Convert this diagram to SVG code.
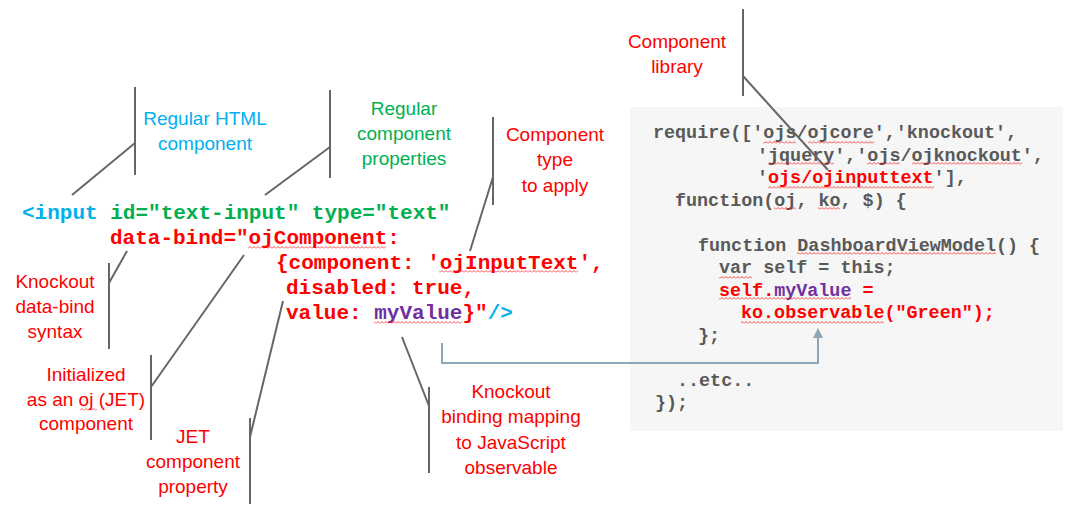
<svg xmlns="http://www.w3.org/2000/svg" width="1083" height="515" viewBox="0 0 1083 515">
<defs>
<style>
.lbl{font-family:"Liberation Sans",Arial,sans-serif;font-size:19px;text-anchor:middle}
.red{fill:#FF0000}.blue{fill:#00B0F0}.green{fill:#00B050}.purple{fill:#7030A0}.gray{fill:#595959}
.code{font-family:"Liberation Mono","Courier New",monospace;font-weight:bold;white-space:pre}
.lc{font-size:21px}.rc{font-size:18.4px}
.co{stroke:#666666;stroke-width:2;fill:none}
.sq{fill:url(#wave)}
</style>
<pattern id="wave" width="4" height="3" patternUnits="userSpaceOnUse">
<path d="M0 2.5 L2 0.5 L4 2.5" fill="none" stroke="#FF0000" stroke-width="0.7"/>
</pattern>
<marker id="ah" viewBox="0 0 10 10" refX="9" refY="5" markerWidth="5" markerHeight="5" orient="auto">
<path d="M0 0 L10 5 L0 10 z" fill="#8EA6B5"/>
</marker>
</defs>
<rect width="1083" height="515" fill="#FFFFFF"/>

<g id="code-panel">
<rect x="630" y="107" width="433" height="324" fill="#F5F6F5"/>
<text class="code rc gray" x="653" y="138">require(['ojs/ojcore','knockout',</text>
<text class="code rc gray" x="757" y="160.5">'jquery','ojs/ojknockout',</text>
<text class="code rc gray" x="757" y="183">'<tspan class="red">ojs/ojinputtext</tspan>'],</text>
<text class="code rc gray" x="675" y="205.5">function(oj, ko, $) {</text>
<text class="code rc gray" x="698" y="250.5">function DashboardViewModel() {</text>
<text class="code rc gray" x="719" y="273">var self = this;</text>
<text class="code rc red" x="719" y="295.5">self.<tspan class="purple">myValue</tspan> =</text>
<text class="code rc red" x="741" y="318">ko.observable("Green");</text>
<text class="code rc gray" x="698" y="340.5">};</text>
<text class="code rc gray" x="677" y="385.5">..etc..</text>
<text class="code rc gray" x="655" y="408">});</text>
<g id="panel-squiggles">
<rect class="sq" x="763" y="141" width="33" height="3"/>
<rect class="sq" x="808" y="141" width="66" height="3"/>
<rect class="sq" x="768" y="162" width="66" height="3"/>
<rect class="sq" x="867" y="162" width="33" height="3"/>
<rect class="sq" x="912" y="162" width="110" height="3"/>
<rect class="sq" x="768" y="186" width="166" height="3"/>
<rect class="sq" x="774" y="207" width="22" height="3"/>
<rect class="sq" x="818" y="207" width="22" height="3"/>
<rect class="sq" x="797" y="252" width="199" height="3"/>
<rect class="sq" x="719" y="276" width="33" height="3"/>
<rect class="sq" x="719" y="297" width="132" height="3"/>
<rect class="sq" x="741" y="321" width="143" height="3"/>
</g>
</g>

<g id="html-code">
<text class="code lc" x="22" y="219"><tspan class="blue">&lt;input </tspan><tspan class="green">id="text-input" type="text"</tspan></text>
<text class="code lc red" x="110" y="244">data-bind="ojComponent:</text>
<text class="code lc red" x="276" y="269">{component: 'ojInputText',</text>
<text class="code lc red" x="286" y="294">disabled: true,</text>
<text class="code lc red" x="286" y="319">value: <tspan class="purple">myValue</tspan>}"<tspan class="blue">/&gt;</tspan></text>
<rect class="sq" x="248" y="246" width="138" height="3"/>
<rect class="sq" x="439" y="270" width="139" height="3"/>
<rect class="sq" x="374" y="321" width="88" height="3"/>
</g>

<g id="connectors">
<path class="co" d="M135 87 V175 M135 143 L72 195"/>
<path class="co" d="M330 90 V178 M330 147 L265 195"/>
<path class="co" d="M493 117 V205 M493 177 L470 251"/>
<path class="co" d="M109 263 V349 M109 283 L127 251"/>
<path class="co" d="M151 355 V440 M151 387 L244 255"/>
<path class="co" d="M250 418 V504 M250 437 L283 301"/>
<path class="co" d="M429 387 V473 M429 406 L402 337"/>
<path class="co" d="M743 9 V96 M743 76 L828 170"/>
<path d="M442 343 V363 H818 V329" fill="none" stroke="#8EA6B5" stroke-width="2" marker-end="url(#ah)"/>
</g>

<g id="label-library"><text class="lbl red" x="677" y="48">Component</text><text class="lbl red" x="677" y="73">library</text></g>
<g id="label-html"><text class="lbl blue" x="205" y="125">Regular HTML</text><text class="lbl blue" x="205" y="150">component</text></g>
<g id="label-props"><text class="lbl green" x="404" y="115">Regular</text><text class="lbl green" x="404" y="140">component</text><text class="lbl green" x="404" y="165">properties</text></g>
<g id="label-type"><text class="lbl red" x="555" y="141">Component</text><text class="lbl red" x="555" y="166">type</text><text class="lbl red" x="555" y="192">to apply</text></g>
<g id="label-databind"><text class="lbl red" x="55" y="288">Knockout</text><text class="lbl red" x="55" y="313">data-bind</text><text class="lbl red" x="55" y="338">syntax</text></g>
<g id="label-init"><text class="lbl red" x="86" y="381">Initialized</text><text class="lbl red" x="86" y="406">as an oj (JET)</text><text class="lbl red" x="86" y="430">component</text>
<rect class="sq" x="80" y="408" width="17" height="3"/></g>
<g id="label-jet"><text class="lbl red" x="193" y="443">JET</text><text class="lbl red" x="193" y="468">component</text><text class="lbl red" x="193" y="493">property</text></g>
<g id="label-binding"><text class="lbl red" x="511" y="398">Knockout</text><text class="lbl red" x="511" y="423">binding mapping</text><text class="lbl red" x="511" y="449">to JavaScript</text><text class="lbl red" x="511" y="474">observable</text></g>
</svg>
